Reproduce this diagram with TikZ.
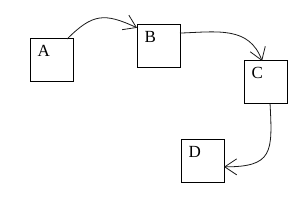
\documentclass[tikz,border=0pt]{standalone}
\usepackage{fontspec}
\setmainfont{Liberation Serif}
\usepackage{tikz}
\usetikzlibrary{arrows.meta}

\begin{document}
\begin{tikzpicture}[
  x=1pt, y=-1pt,
  box/.style={rectangle, draw=black, line width=1pt, minimum size=43pt,
              inner sep=0pt, outer sep=0pt,
              label={[lbl]north west:#1}},
  lbl/.style={anchor=north west, inner sep=0pt, xshift=7.5pt, yshift=-6.5pt,
              font=\fontsize{17}{20}\selectfont},
  arr/.style={-{Straight Barb[length=12pt, width=16pt]}, line width=0.8pt,
              draw=black!90}
]
\useasboundingbox (0,0) rectangle (300,200);

% Boxes
\node[box=A] (A) at (51.5,60.5) {};
\node[box=B] (B) at (158.5,46.5) {};
\node[box=C] (C) at (265.5,82.5) {};
\node[box=D] (D) at (202.5,161.5) {};

% Arrows
\draw[arr] (A.54) to[out=45, in=155, looseness=1.3] (B.139);
\draw[arr] (B.32) to[out=2, in=110, looseness=1.1] (C.99);
\draw[arr] (C.-78) to[out=-87, in=0, looseness=1.6] (D.-14);
\end{tikzpicture}
\end{document}
